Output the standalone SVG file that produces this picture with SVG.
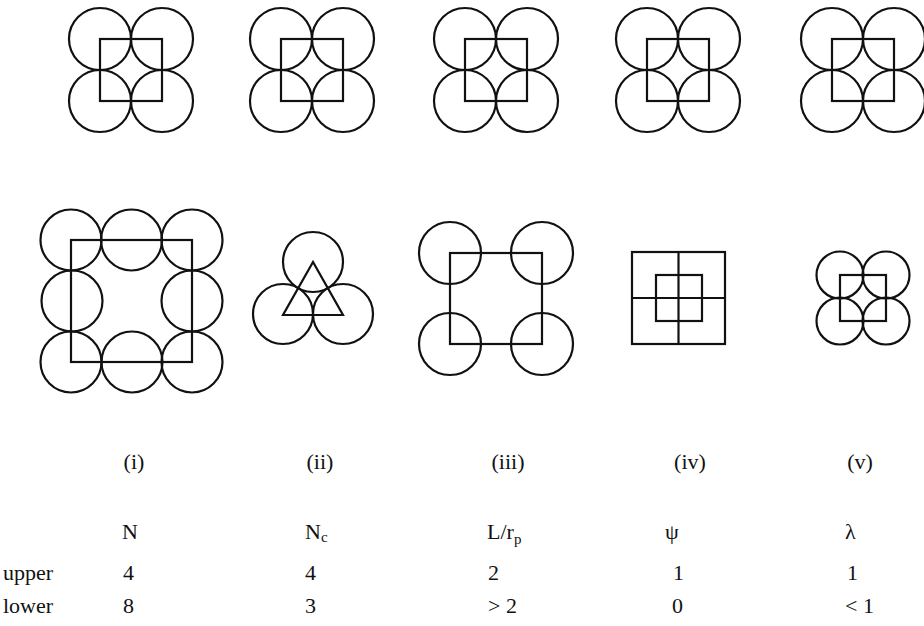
<svg xmlns="http://www.w3.org/2000/svg" width="924" height="626" viewBox="0 0 924 626">
<style>
.s{fill:none;stroke:#111;stroke-width:2.2}
text{font-family:"Liberation Serif","Times New Roman",serif;font-size:22px;fill:#111}
.sub{font-size:15px}
</style>
<defs>
<g id="quad">
<circle class="s" cx="0" cy="0" r="31"/>
<circle class="s" cx="62" cy="0" r="31"/>
<circle class="s" cx="0" cy="62" r="31"/>
<circle class="s" cx="62" cy="62" r="31"/>
<rect class="s" x="0" y="0" width="62" height="62"/>
</g>
</defs>
<rect width="924" height="626" fill="#fff"/>
<g id="top1"><use href="#quad" x="100" y="39"/></g>
<g id="top2"><use href="#quad" x="281" y="39"/></g>
<g id="top3"><use href="#quad" x="465" y="39"/></g>
<g id="top4"><use href="#quad" x="647" y="39"/></g>
<g id="top5"><use href="#quad" x="832" y="39"/></g>

<g id="fig-i">
<circle class="s" cx="71" cy="240" r="30.5"/>
<circle class="s" cx="131.5" cy="240" r="30.5"/>
<circle class="s" cx="192" cy="240" r="30.5"/>
<circle class="s" cx="72" cy="301" r="30.5"/>
<circle class="s" cx="192" cy="301" r="30.5"/>
<circle class="s" cx="71" cy="362" r="30.5"/>
<circle class="s" cx="132" cy="362" r="30.5"/>
<circle class="s" cx="192" cy="362" r="30.5"/>
<rect class="s" x="71" y="240" width="121" height="122"/>
</g>
<g id="fig-ii">
<circle class="s" cx="313" cy="262" r="30"/>
<circle class="s" cx="283" cy="314" r="30"/>
<circle class="s" cx="343" cy="314" r="30"/>
<polygon class="s" points="313,262 283,315 343,315"/>
</g>
<g id="fig-iii">
<circle class="s" cx="450" cy="253" r="31"/>
<circle class="s" cx="542" cy="253" r="31"/>
<circle class="s" cx="450" cy="344" r="31"/>
<circle class="s" cx="542" cy="344" r="31"/>
<rect class="s" x="450" y="253" width="92" height="91"/>
</g>
<g id="fig-iv">
<rect class="s" x="632" y="252" width="93" height="92"/>
<rect class="s" x="656" y="275" width="46" height="46"/>
<line class="s" x1="678.5" y1="252" x2="678.5" y2="344"/>
<line class="s" x1="632" y1="298" x2="725" y2="298"/>
</g>
<g id="fig-v">
<circle class="s" cx="840" cy="275" r="23.5"/>
<circle class="s" cx="886" cy="275" r="23.5"/>
<circle class="s" cx="840" cy="321" r="23.5"/>
<circle class="s" cx="886" cy="321" r="23.5"/>
<rect class="s" x="840" y="275" width="46" height="46"/>
</g>

<g id="labels" text-anchor="middle">
<text x="134" y="469">(i)</text>
<text x="320" y="469">(ii)</text>
<text x="508" y="469">(iii)</text>
<text x="690" y="469">(iv)</text>
<text x="860" y="469">(v)</text>
</g>
<g id="table">
<text x="122" y="539">N</text>
<text x="305" y="539">N<tspan class="sub" dy="3">c</tspan></text>
<text x="487" y="539">L/r<tspan class="sub" dy="5">p</tspan></text>
<text x="665" y="539">ψ</text>
<text x="845" y="539">λ</text>
<text x="3" y="580">upper</text>
<text x="123" y="580">4</text>
<text x="305" y="580">4</text>
<text x="488" y="580">2</text>
<text x="673" y="580">1</text>
<text x="847" y="580">1</text>
<text x="3" y="613">lower</text>
<text x="123" y="613">8</text>
<text x="305" y="613">3</text>
<text x="488" y="613">&gt; 2</text>
<text x="672" y="613">0</text>
<text x="845" y="613">&lt; 1</text>
</g>
</svg>
